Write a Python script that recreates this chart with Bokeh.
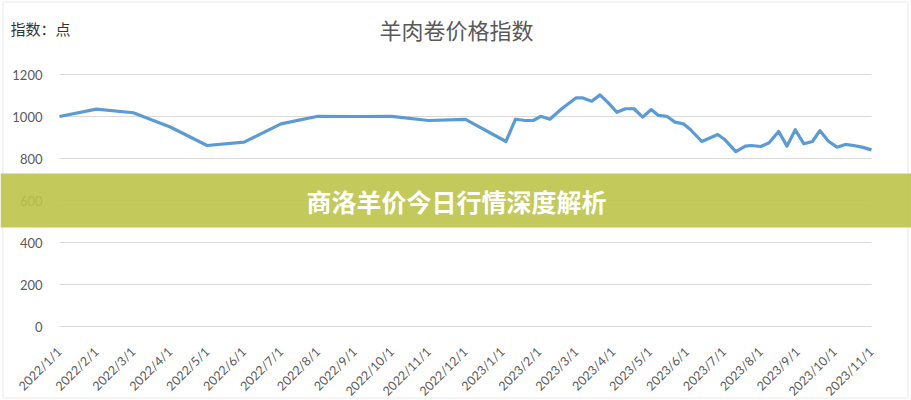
import calendar
from bokeh.plotting import figure
from bokeh.models import ColumnDataSource, FixedTicker, Range1d, BoxAnnotation, Label
from bokeh.embed import file_html
from bokeh.resources import INLINE

# ---- data ----
dates = [
    "2022-01-01", "2022-02-01", "2022-03-01", "2022-04-01", "2022-05-01", "2022-06-01",
    "2022-07-01", "2022-08-01", "2022-09-01", "2022-10-01", "2022-11-01", "2022-12-01",
    "2023-01-04", "2023-01-12", "2023-01-19", "2023-01-27", "2023-02-02", "2023-02-09",
    "2023-02-18", "2023-03-01", "2023-03-06", "2023-03-14", "2023-03-21", "2023-03-28",
    "2023-04-04", "2023-04-11", "2023-04-18", "2023-04-25", "2023-05-02", "2023-05-08",
    "2023-05-15", "2023-05-22", "2023-05-29", "2023-06-04", "2023-06-13", "2023-06-26",
    "2023-07-02", "2023-07-11", "2023-07-19", "2023-07-24", "2023-08-01", "2023-08-08",
    "2023-08-16", "2023-08-23", "2023-08-30", "2023-09-06", "2023-09-13", "2023-09-19",
    "2023-09-26", "2023-10-03", "2023-10-10", "2023-10-17", "2023-10-24", "2023-11-01",
]
index_values = [
    1000, 1035, 1018, 950, 862, 878,
    965, 1001, 1000, 1001, 981, 986,
    881, 987, 982, 981, 1001, 987,
    1037, 1089, 1089, 1073, 1103, 1065,
    1020, 1037, 1037, 997, 1033, 1005,
    1001, 973, 965, 937, 881, 914,
    889, 833, 859, 862, 857, 875,
    929, 859, 937, 870, 881, 933,
    882, 854, 867, 862, 854, 841,
]
tick_labels = [
    "2022/1/1", "2022/2/1", "2022/3/1", "2022/4/1", "2022/5/1", "2022/6/1",
    "2022/7/1", "2022/8/1", "2022/9/1", "2022/10/1", "2022/11/1", "2022/12/1",
    "2023/1/1", "2023/2/1", "2023/3/1", "2023/4/1", "2023/5/1", "2023/6/1",
    "2023/7/1", "2023/8/1", "2023/9/1", "2023/10/1", "2023/11/1",
]
y_ticks = [0, 200, 400, 600, 800, 1000, 1200]
title_text = "羊肉卷价格指数"
unit_text = "指数：点"
banner_text = "商洛羊价今日行情深度解析"


def month_index(s):
    y, m, d = map(int, s.split("-"))
    dim = calendar.monthrange(y, m)[1]
    return (y - 2022) * 12 + (m - 1) + (d - 1) / dim


xs = [month_index(d) for d in dates]
src = ColumnDataSource(dict(x=xs, y=index_values))
n_months = len(tick_labels) - 1
grid_src = ColumnDataSource(dict(x0=[0] * len(y_ticks), x1=[n_months] * len(y_ticks),
                                 y=y_ticks))

# ---- layout geometry (pixels inside the figure canvas) ----
W, H = 911, 400
PL, PR, PT, PB = 59, 871, 74, 326      # plot-area edges
ymax = y_ticks[-1]
kx = (PR - PL) / n_months
ky = (PB - PT) / ymax


def px_x(sx):
    return (sx - PL) / kx


def px_y(sy):
    return (PB - sy) / ky


x_range = Range1d(px_x(0), px_x(W))
y_range = Range1d(px_y(H), px_y(0))

p = figure(width=W, height=H, output_backend="svg", toolbar_location=None,
           x_range=x_range, y_range=y_range,
           min_border_left=0, min_border_right=0, min_border_top=0, min_border_bottom=0)
p.outline_line_color = None
p.background_fill_color = "white"
p.border_fill_color = "white"
p.xgrid.grid_line_color = None
p.ygrid.grid_line_color = None

# outer chart border
p.add_layout(BoxAnnotation(left=px_x(2.5), right=px_x(907.5), top=px_y(1.5), bottom=px_y(397.5),
                           fill_alpha=0, line_color="#d9d9d9", line_width=2))

# horizontal gridlines restricted to the plot area
p.segment("x0", "y", "x1", "y", source=grid_src, line_color="#d9d9d9", line_width=1.2)

p.line("x", "y", source=src, line_color="#5b9bd5", line_width=3.2, line_join="round")

# axes (fixed inside the canvas)
p.xaxis.fixed_location = 0
p.xaxis.ticker = FixedTicker(ticks=list(range(len(tick_labels))))
p.xaxis.major_label_overrides = {i: t for i, t in enumerate(tick_labels)}
p.xaxis.major_label_orientation = 0.785398
p.xaxis.axis_line_color = None
p.xaxis.major_tick_line_color = None
p.xaxis.minor_tick_line_color = None
p.xaxis.major_label_text_font = "Lato"
p.xaxis.major_label_text_font_size = "12.5px"
p.xaxis.major_label_text_color = "#595959"
p.xaxis.major_label_standoff = 17

p.yaxis.fixed_location = 0
p.yaxis.ticker = FixedTicker(ticks=y_ticks)
p.yaxis.axis_line_color = None
p.yaxis.major_tick_line_color = None
p.yaxis.minor_tick_line_color = None
p.yaxis.major_label_text_font = "Lato"
p.yaxis.major_label_text_font_size = "13px"
p.yaxis.major_label_text_color = "#595959"
p.yaxis.major_label_standoff = 11

# title and unit label
p.add_layout(Label(x=px_x(456), y=px_y(28), text=title_text, text_font="Noto Sans CJK SC",
                   text_font_size="22px", text_color="#595959", text_align="center",
                   text_baseline="middle"))
p.add_layout(Label(x=px_x(10), y=px_y(28), text=unit_text, text_font="Noto Sans CJK SC",
                   text_font_size="15px", text_color="#333333", text_align="left",
                   text_baseline="middle"))

# banner
p.add_layout(BoxAnnotation(top=px_y(173), bottom=px_y(227),
                           fill_color="#bdc349", fill_alpha=0.9, line_color=None))
p.add_layout(Label(x=px_x(456), y=px_y(200), text=banner_text,
                   text_font="Noto Sans CJK SC", text_font_style="bold",
                   text_font_size="25px", text_color="white",
                   text_align="center", text_baseline="middle"))

open("out.html", "w").write(file_html(p, INLINE))
